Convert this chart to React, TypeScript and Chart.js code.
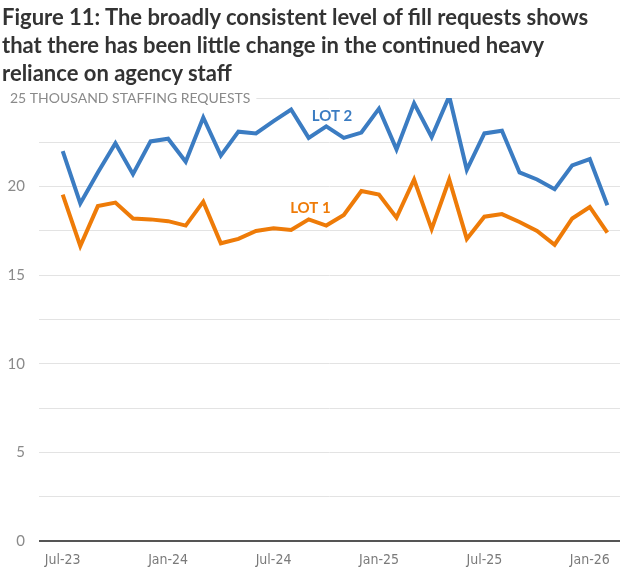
import React, { useEffect, useRef } from "react";
import { Chart, registerables } from "chart.js";

Chart.register(...registerables);

// Monthly fill requests, Jul-23 to Feb-26 (thousands)
const months = [
  "Jul-23", "Aug-23", "Sep-23", "Oct-23", "Nov-23", "Dec-23",
  "Jan-24", "Feb-24", "Mar-24", "Apr-24", "May-24", "Jun-24",
  "Jul-24", "Aug-24", "Sep-24", "Oct-24", "Nov-24", "Dec-24",
  "Jan-25", "Feb-25", "Mar-25", "Apr-25", "May-25", "Jun-25",
  "Jul-25", "Aug-25", "Sep-25", "Oct-25", "Nov-25", "Dec-25",
  "Jan-26", "Feb-26",
];

const lot2 = [
  22.0, 19.05, 20.8, 22.45, 20.7, 22.55, 22.7, 21.4, 23.9, 21.75, 23.1, 23.0,
  23.7, 24.35, 22.75, 23.4, 22.75, 23.05, 24.4, 22.1, 24.7, 22.8, 25.1, 20.95,
  23.0, 23.15, 20.8, 20.4, 19.85, 21.2, 21.55, 18.95,
];

const lot1 = [
  19.55, 16.65, 18.9, 19.1, 18.2, 18.15, 18.05, 17.8, 19.15, 16.8, 17.05, 17.5,
  17.65, 17.55, 18.15, 17.8, 18.4, 19.75, 19.55, 18.25, 20.4, 17.6, 20.4, 17.05,
  18.3, 18.45, 18.0, 17.5, 16.72, 18.2, 18.85, 17.4,
];

const xTickIndices = [0, 6, 12, 18, 24, 30];
const yAxisTitle = "25 THOUSAND STAFFING REQUESTS";
const titleLines = [
  "Figure 11: The broadly consistent level of fill requests shows",
  "that there has been little change in the continued heavy",
  "reliance on agency staff",
];

const BLUE = "#3b7cc2";
const ORANGE = "#ee7b08";
const LABEL_FONT = "Lato, 'Open Sans', sans-serif";

// Draws the y-axis caption at the top gridline and the in-chart series labels
const annotations = {
  id: "annotations",
  beforeDatasetsDraw(chart: any) {
    const { ctx, scales } = chart;
    const y = scales.y;
    const yTop = y.getPixelForValue(25);
    ctx.save();
    ctx.font = `400 14px ${LABEL_FONT}`;
    ctx.textBaseline = "middle";
    ctx.textAlign = "left";
    const w = ctx.measureText(yAxisTitle).width;
    ctx.fillStyle = "#ffffff";
    ctx.fillRect(0, yTop - 3, 10 + w + 6, 6);
    ctx.fillStyle = "#8a8a8a";
    ctx.fillText(yAxisTitle, 10, yTop);
    ctx.restore();
  },
  afterDatasetsDraw(chart: any) {
    const { ctx, scales } = chart;
    const x = scales.x;
    const y = scales.y;
    ctx.save();
    ctx.font = `700 15px ${LABEL_FONT}`;
    ctx.textBaseline = "middle";
    ctx.textAlign = "center";
    ctx.fillStyle = BLUE;
    ctx.fillText("LOT 2", x.getPixelForValue(15.33), y.getPixelForValue(23.98));
    ctx.fillStyle = ORANGE;
    ctx.fillText("LOT 1", x.getPixelForValue(14.1), y.getPixelForValue(18.77));
    ctx.restore();
  },
};

export default function App() {
  const canvasRef = useRef<HTMLCanvasElement | null>(null);

  useEffect(() => {
    const canvas = canvasRef.current;
    if (!canvas) return;
    const chart = new Chart(canvas, {
      type: "line",
      data: {
        datasets: [
          {
            label: "LOT 2",
            data: lot2.map((v, i) => ({ x: i, y: v })),
            borderColor: BLUE,
            borderWidth: 4,
            pointRadius: 0,
            tension: 0,
            borderJoinStyle: "miter",
          },
          {
            label: "LOT 1",
            data: lot1.map((v, i) => ({ x: i, y: v })),
            borderColor: ORANGE,
            borderWidth: 4,
            pointRadius: 0,
            tension: 0,
            borderJoinStyle: "miter",
          },
        ],
      },
      options: {
        responsive: false,
        animation: false,
        layout: { padding: { top: 98, left: 0, right: 0, bottom: 0 } },
        plugins: {
          legend: { display: false },
          tooltip: { enabled: false },
          title: { display: false },
        },
        scales: {
          x: {
            type: "linear",
            min: -1.35,
            max: 31.72,
            grid: { display: false },
            border: { display: false },
            afterBuildTicks: (scale: any) => {
              scale.ticks = xTickIndices.map((v) => ({ value: v }));
            },
            afterFit: (scale: any) => {
              scale.height = 26;
            },
            ticks: {
              autoSkip: false,
              maxRotation: 0,
              padding: 3,
              color: "#7a7a7a",
              font: { family: "'Liberation Sans Narrow', 'DejaVu Sans Condensed', Roboto, sans-serif", size: 14 },
              callback: (v: any) => months[Number(v)] ?? "",
            },
          },
          y: {
            min: 0,
            max: 25,
            border: { display: false },
            afterFit: (scale: any) => {
              scale.width = 39;
            },
            grid: {
              drawTicks: false,
              color: (c: any) => (c.tick && c.tick.value === 0 ? "#555555" : "#e3e3e3"),
              lineWidth: (c: any) => (c.tick && c.tick.value === 0 ? 2 : 1),
            },
            afterBuildTicks: (scale: any) => {
              const t = [];
              for (let v = 0; v <= 25; v += 2.5) t.push({ value: v });
              scale.ticks = t;
            },
            ticks: {
              padding: 14,
              color: "#8a8a8a",
              font: { family: LABEL_FONT, size: 15 },
              callback: (v: any) => {
                const n = Number(v);
                if (n === 25) return "";
                return n % 5 === 0 ? String(n) : "";
              },
            },
          },
        },
      },
      plugins: [annotations],
    });
    return () => chart.destroy();
  }, []);

  return (
    <div
      style={{
        position: "fixed",
        left: 0,
        top: 0,
        width: 620,
        height: 567,
        background: "#ffffff",
        overflow: "hidden",
      }}
    >
      <canvas
        ref={canvasRef}
        width={620}
        height={567}
        style={{ position: "absolute", left: 0, top: 0 }}
      />
      <div
        style={{
          position: "absolute",
          left: 2,
          top: 3,
          fontFamily: "Lato, 'Open Sans', sans-serif",
          fontWeight: 700,
          fontSize: 22,
          lineHeight: "28px",
          color: "#333333",
          whiteSpace: "nowrap",
        }}
      >
        {titleLines.map((l) => (
          <div key={l}>{l}</div>
        ))}
      </div>
    </div>
  );
}
